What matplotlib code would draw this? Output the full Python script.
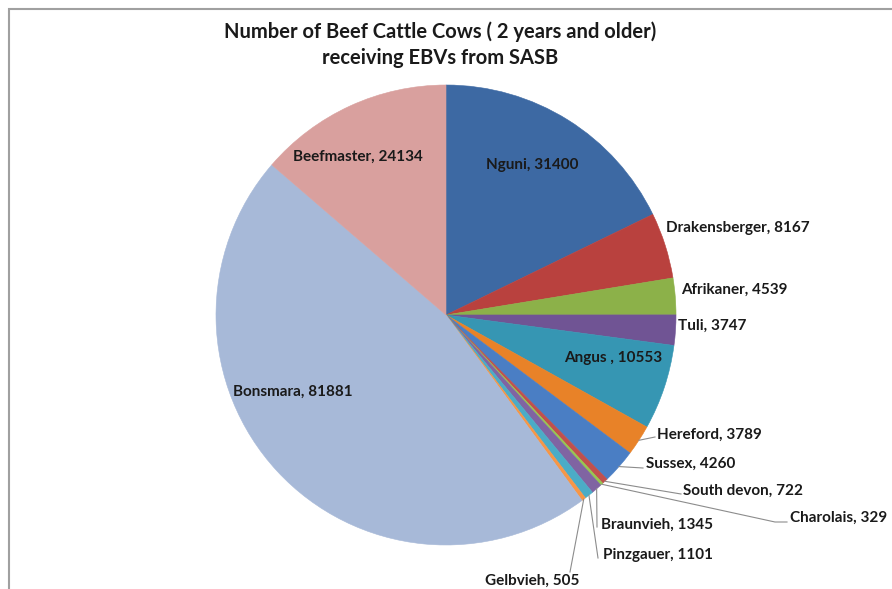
import matplotlib
matplotlib.use("Agg")
import matplotlib.pyplot as plt
import numpy as np
from matplotlib.patches import Rectangle

# ---- data ----
breeds = ["Nguni", "Drakensberger", "Afrikaner", "Tuli", "Angus ", "Hereford",
          "Sussex", "South devon", "Charolais", "Braunvieh", "Pinzgauer",
          "Gelbvieh", "Bonsmara", "Beefmaster"]
counts = [31400, 8167, 4539, 3747, 10553, 3789, 4260, 722, 329, 1345, 1101,
          505, 81881, 24134]
title_lines = ["Number of Beef Cattle Cows ( 2 years and older)",
               "receiving EBVs from SASB"]

# ---- styles / layout ----
colors = ["#3D69A3", "#B9413E", "#8CB149", "#705494", "#3696B3", "#E88228",
          "#4A7EC4", "#C0504D", "#96C850", "#8064A2", "#4BACC6", "#F79646",
          "#A7B9D8", "#D9A09E"]
W, H = 892, 589
# label positions in pixel coords (x, y from top), ha
label_pos = [(532, 165, "center"), (666, 228, "left"), (681, 290, "left"),
             (678, 326, "left"), (613, 358, "center"), (657, 435, "left"),
             (646, 464, "left"), (683, 491, "left"), (790, 518, "left"),
             (601, 525, "left"), (603, 555, "left"), (532, 581, "center"),
             (293, 392, "center"), (358, 157, "center")]
# leader line path points (after rim point), None = no leader
leaders = [None, None, None, None, None,
           [(655, 437)], [(643, 468)], [(681, 494)],
           [(775, 522), (787, 522)], [(597, 527)], [(598, 558)],
           [(570, 572)], None, None]

plt.rcParams['font.family'] = ['Lato', 'DejaVu Sans']

fig = plt.figure(figsize=(W / 100, H / 100), dpi=100)
ax = fig.add_axes([0, 0, 1, 1])
cx, cy, R = 446, 315, 230

def Y(y):
    return H - y

wedges, _ = ax.pie(counts, colors=colors, startangle=90, counterclock=False,
                   center=(cx, Y(cy)), radius=R, frame=True,
                   wedgeprops=dict(linewidth=0.4, edgecolor=None))
for w in wedges:
    w.set_edgecolor(w.get_facecolor())
ax.set_xlim(0, W)
ax.set_ylim(0, H)
ax.set_aspect('equal')
ax.axis('off')

for i, w in enumerate(wedges):
    x, y, ha = label_pos[i]
    ax.text(x, Y(y), f"{breeds[i]}, {counts[i]}", ha=ha, va="center",
            fontsize=11, fontweight="bold", color="#1a1a1a")
    if leaders[i] is not None:
        mid = np.deg2rad((w.theta1 + w.theta2) / 2)
        rx = cx + R * np.cos(mid)
        ry = Y(cy) + R * np.sin(mid)
        xs = [rx] + [p[0] for p in leaders[i]]
        ys = [ry] + [Y(p[1]) for p in leaders[i]]
        ax.plot(xs, ys, color="#8c8c8c", lw=0.8)

ax.text(440, Y(32), title_lines[0], ha="center", va="center", fontsize=14.5,
        fontweight="bold", color="#1a1a1a")
ax.text(440, Y(58), title_lines[1], ha="center", va="center", fontsize=14.5,
        fontweight="bold", color="#1a1a1a")

# chart border (top and left visible, rest cropped)
ax.add_patch(Rectangle((9, -20), W + 40, Y(9) + 20, fill=False,
                       edgecolor="#a0a0a0", lw=1.5, clip_on=False))

fig.savefig("out.png", dpi=100)
